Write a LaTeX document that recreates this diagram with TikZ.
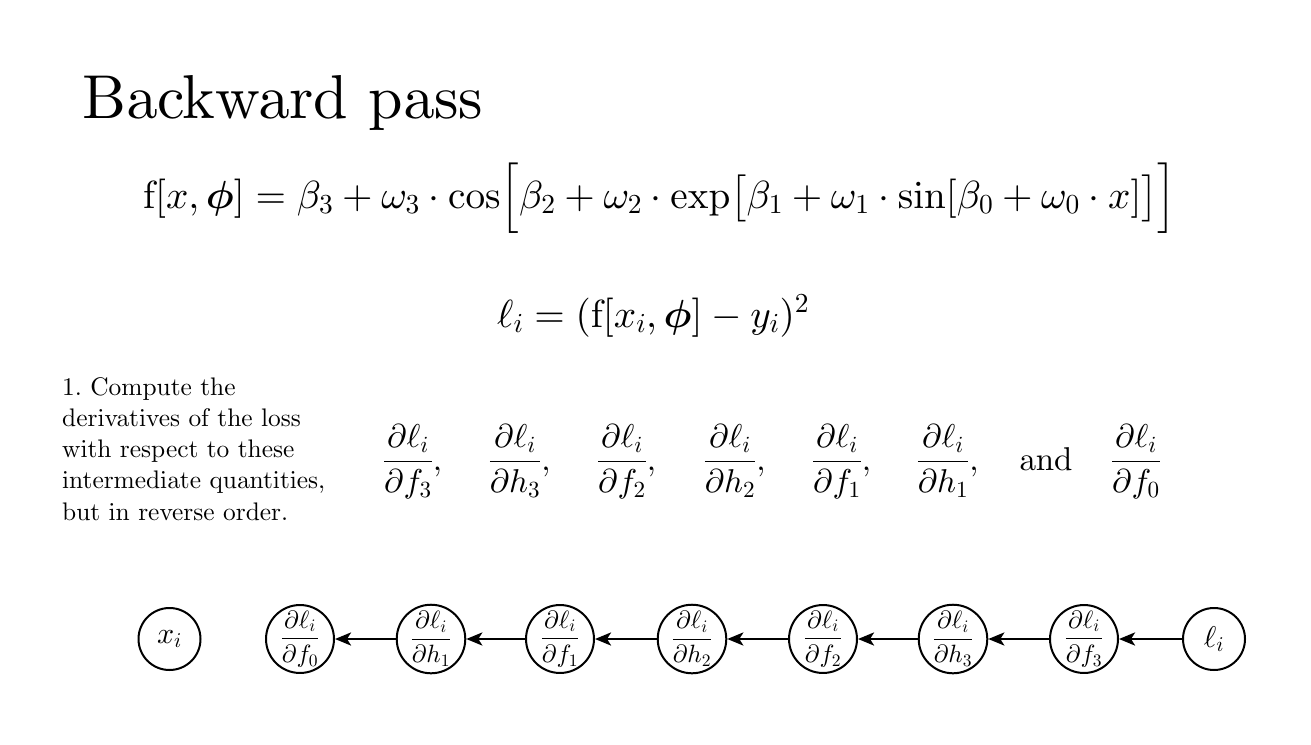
\documentclass[tikz,border=0pt]{standalone}
\usepackage[OT1]{fontenc}
\usepackage{amsmath}
\DeclareFontFamily{OT1}{cmrx}{}
\DeclareFontShape{OT1}{cmrx}{m}{n}{<->cmr10}{}
\DeclareFontShape{OT1}{cmrx}{bx}{n}{<->cmbx10}{}
\DeclareFontShape{OT1}{cmrx}{m}{it}{<->cmti10}{}
\DeclareFontFamily{OML}{cmmx}{\skewchar\font127}
\DeclareFontShape{OML}{cmmx}{m}{it}{<->cmmi10}{}
\DeclareFontShape{OML}{cmmx}{b}{it}{<->cmmib10}{}
\DeclareFontFamily{OMS}{cmsyx}{\skewchar\font48}
\DeclareFontShape{OMS}{cmsyx}{m}{n}{<->cmsy10}{}
\DeclareFontShape{OMS}{cmsyx}{b}{n}{<->cmbsy10}{}
\DeclareFontFamily{OMX}{cmexx}{}
\DeclareFontShape{OMX}{cmexx}{m}{n}{<->cmex10}{}
\DeclareSymbolFont{operators}{OT1}{cmrx}{m}{n}
\SetSymbolFont{operators}{bold}{OT1}{cmrx}{bx}{n}
\DeclareSymbolFont{letters}{OML}{cmmx}{m}{it}
\SetSymbolFont{letters}{bold}{OML}{cmmx}{b}{it}
\DeclareSymbolFont{symbols}{OMS}{cmsyx}{m}{n}
\SetSymbolFont{symbols}{bold}{OMS}{cmsyx}{b}{n}
\DeclareSymbolFont{largesymbols}{OMX}{cmexx}{m}{n}
\SetSymbolFont{largesymbols}{bold}{OMX}{cmexx}{m}{n}
\renewcommand{\rmdefault}{cmrx}
\usetikzlibrary{arrows.meta}
\begin{document}
\frenchspacing
\begin{tikzpicture}[x=1pt,y=-1pt,
  circ/.style={circle,draw,line width=2pt,minimum size=62pt,inner sep=0pt,font=\fontsize{25}{29}\selectfont},
  circbig/.style={circ,font=\fontsize{30}{34}\selectfont},
  back/.style={line width=2.8pt,-{Stealth[length=16pt,width=13pt,inset=4pt]}},
  mathrow/.style={font=\fontsize{33}{38}\selectfont,inner sep=0pt},
  formula/.style={font=\fontsize{39.2}{44}\selectfont,inner sep=0pt,anchor=base west},
  txt/.style={inner sep=0pt,anchor=base west}]
\useasboundingbox (0,0) rectangle (1311,744);
\node[txt,font=\fontsize{62}{70}\selectfont] (title) at (82,118) {Backward pass};
\node[formula] (model) at (143,208) {$\mathrm{f}[x,\boldsymbol{\phi}] = \beta_3+\omega_3\cdot\cos\Bigl[\beta_2+\omega_2\cdot\exp\bigl[\beta_1+\omega_1\cdot\sin[\beta_0+\omega_0\cdot x]\bigr]\Bigr]$};
\node[formula] (loss) at (497,327) {$\ell_i = (\mathrm{f}[x_i,\boldsymbol{\phi}]-y_i)^2$};
\node[txt,font=\fontsize{25.4}{31.25}\selectfont,text width=320pt,align=left] (step) at (62,395) {1. Compute the\\derivatives of the loss\\with respect to these\\intermediate quantities,\\but in reverse order.};
\node[mathrow,anchor=base] (d1) at (408,470) {$\displaystyle\frac{\partial\ell_i}{\partial f_3}$\rlap{$,$}};
\node[mathrow,anchor=base] (d2) at (515,470) {$\displaystyle\frac{\partial\ell_i}{\partial h_3}$\rlap{$,$}};
\node[mathrow,anchor=base] (d3) at (622,470) {$\displaystyle\frac{\partial\ell_i}{\partial f_2}$\rlap{$,$}};
\node[mathrow,anchor=base] (d4) at (730,470) {$\displaystyle\frac{\partial\ell_i}{\partial h_2}$\rlap{$,$}};
\node[mathrow,anchor=base] (d5) at (837,470) {$\displaystyle\frac{\partial\ell_i}{\partial f_1}$\rlap{$,$}};
\node[mathrow,anchor=base] (d6) at (943,470) {$\displaystyle\frac{\partial\ell_i}{\partial h_1}$\rlap{$,$}};
\node[mathrow,anchor=base] (and) at (1046,470) {and};
\node[mathrow,anchor=base] (d7) at (1136,470) {$\displaystyle\frac{\partial\ell_i}{\partial f_0}$};
\node[circbig] (x) at (169.5,639) {$x_i$};
\node[circ] (f0) at (300,639) {$\displaystyle\frac{\partial\ell_i}{\partial f_0}$};
\node[circ] (h1) at (431,639) {$\displaystyle\frac{\partial\ell_i}{\partial h_1}$};
\node[circ] (f1) at (560,639) {$\displaystyle\frac{\partial\ell_i}{\partial f_1}$};
\node[circ] (h2) at (692,639) {$\displaystyle\frac{\partial\ell_i}{\partial h_2}$};
\node[circ] (f2) at (823,639) {$\displaystyle\frac{\partial\ell_i}{\partial f_2}$};
\node[circ] (h3) at (953,639) {$\displaystyle\frac{\partial\ell_i}{\partial h_3}$};
\node[circ] (f3) at (1084,639) {$\displaystyle\frac{\partial\ell_i}{\partial f_3}$};
\node[circbig] (l) at (1214,639) {$\ell_i$};
\draw[back] (l) -- (f3);
\draw[back] (f3) -- (h3);
\draw[back] (h3) -- (f2);
\draw[back] (f2) -- (h2);
\draw[back] (h2) -- (f1);
\draw[back] (f1) -- (h1);
\draw[back] (h1) -- (f0);
\end{tikzpicture}
\end{document}
